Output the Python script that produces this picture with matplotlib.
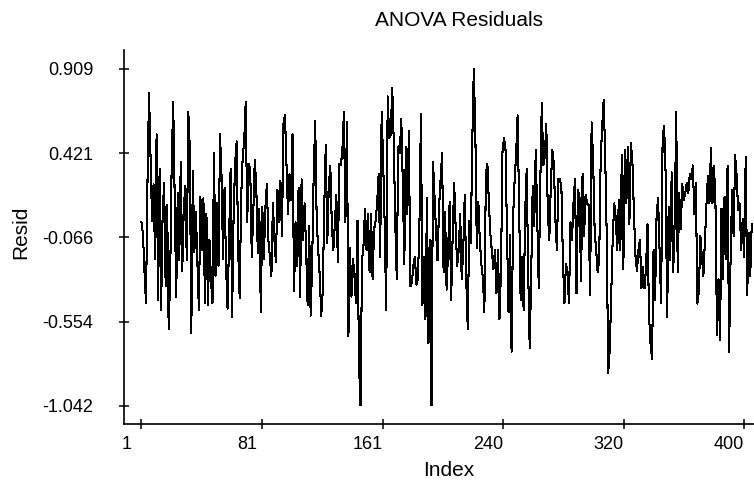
#ANOVA residuals plot, index vs residual

#import modules
import numpy as np
import matplotlib
matplotlib.use("Agg")
import matplotlib.pyplot as plt
from matplotlib.transforms import ScaledTranslation

#Residual values, in chunks of index ranges
resid_001_053 = [0.02, -0.05, -0.27, -0.45, 0.27, 0.77, 0.39, 0.03, 0.24, -0.19, 0.53, -0.43, 0.33,
                 -0.49, 0.07, 0.25, -0.35, 0.12, -0.60, -0.29, 0.36, 0.72, 0.15, -0.41, 0.19, -0.20,
                 0.37, -0.26, 0.10, 0.23, -0.20, 0.66, 0.45, -0.62, 0.32, -0.15, 0.08, -0.20, -0.49,
                 0.17, -0.14, 0.16, -0.45, 0.07, -0.46, -0.08, -0.31, -0.45, 0.42, -0.29, 0.13, -0.23, 0.53]
resid_054_109 = [0.29, -0.19, 0.22, -0.24, -0.48, -0.08, 0.33, -0.53, 0.07, 0.36, 0.49, -0.14, -0.42,
                 0.17, 0.40, 0.49, 0.72, 0.02, 0.36, 0.33, -0.18, 0.07, 0.38, 0.23, -0.16, 0.10, -0.50,
                 0.11, -0.19, 0.10, 0.24, -0.08, -0.18, -0.29, 0.13, -0.08, -0.21, 0.21, 0.02, 0.26,
                 -0.06, 0.59, 0.64, 0.36, 0.07, 0.30, 0.15, 0.53, -0.38, 0.02, -0.23, 0.22, -0.41,
                 0.27, -0.08, 0.13]
resid_110_165 = [-0.14, -0.46, 0.00, -0.52, -0.21, 0.30, 0.61, 0.03, -0.14, -0.29, -0.52, -0.38, 0.11,
                 0.47, -0.10, 0.23, 0.35, 0.01, -0.14, 0.01, 0.18, -0.21, 0.36, 0.35, 0.44, 0.66, 0.02,
                 0.60, -0.64, -0.13, -0.41, -0.19, -0.29, -0.45, 0.03, -0.80, -1.04, -0.20, -0.11, 0.10,
                 -0.14, 0.07, -0.27, 0.07, -0.31, -0.02, 0.03, 0.13, 0.30, -0.18, 0.66, 0.37, 0.01,
                 -0.49, 0.75, 0.51]
resid_166_221 = [0.53, 0.80, 0.49, 0.02, -0.31, 0.46, 0.42, 0.62, 0.25, -0.22, 0.46, 0.07, 0.55, -0.35,
                 -0.33, -0.23, -0.18, -0.34, -0.31, 0.00, 0.65, -0.46, -0.18, -0.54, 0.16, -0.68, -0.08,
                 -1.04, 0.37, 0.17, -0.03, -0.20, 0.11, 0.26, 0.42, -0.27, 0.08, -0.37, -0.14, 0.14,
                 -0.43, -0.06, 0.25, -0.01, -0.23, -0.14, 0.07, -0.31, -0.14, 0.18, -0.31, -0.60, 0.03,
                 -0.10, 0.49, 0.91]
resid_222_277 = [0.55, -0.13, 0.14, -0.09, -0.22, -0.30, -0.50, 0.30, 0.36, 0.13, -0.05, -0.15, -0.25,
                 -0.14, -0.39, -0.14, -0.54, -0.26, 0.43, 0.51, 0.44, -0.05, -0.50, -0.05, -0.73, 0.05,
                 0.26, 0.41, 0.64, 0.12, -0.43, -0.18, -0.49, 0.08, 0.33, -0.26, -0.71, -0.28, 0.23,
                 0.00, 0.44, 0.04, -0.36, 0.24, 0.71, 0.35, 0.40, 0.59, 0.07, -0.08, 0.24, 0.44, 0.36,
                 0.04, -0.14, 0.27]
resid_278_333 = [0.27, 0.22, -0.20, -0.45, -0.22, -0.26, -0.45, 0.02, -0.08, 0.13, 0.27, -0.39, 0.21,
                 0.16, -0.32, 0.30, -0.06, 0.18, 0.13, 0.12, -0.40, 0.60, 0.38, -0.03, -0.14, -0.27,
                 -0.20, 0.39, 0.58, 0.73, 0.40, -0.06, -0.85, -0.72, -0.40, -0.06, 0.13, 0.04, -0.14,
                 0.15, -0.14, 0.41, -0.25, 0.44, 0.13, 0.46, 0.01, 0.48, 0.37, 0.08, -0.17, -0.26,
                 -0.14, -0.08, -0.36, -0.24]
resid_334_405 = [-0.36, -0.25, 0.01, -0.52, -0.68, -0.77, -0.14, -0.43, 0.06, 0.16, -0.14, -0.45, 0.51,
                 0.58, 0.30, -0.53, 0.11, -0.20, 0.31, -0.27, 0.02, 0.66, -0.27, 0.19, -0.02, 0.24,
                 0.15, 0.19, 0.25, 0.19, 0.30, 0.27, 0.35, 0.07, 0.25, -0.45, -0.38, -0.06, -0.18,
                 -0.29, -0.09, 0.12, 0.29, 0.13, 0.45, 0.13, 0.35, 0.12, -0.63, -0.31, -0.66, 0.10,
                 -0.31, 0.17, -0.19, 0.35, -0.73, -0.19, 0.21, -0.06, 0.41, 0.29, 0.09, 0.13, -0.14,
                 0.04, -0.18, 0.40, -0.40, -0.04, -0.29, 0.01]

#Axis ticks as printed on the chart
x_ticks = [1, 80.8, 160.6, 240.4, 320.2, 400]
x_tick_labels = ["1", "81", "161", "240", "320", "400"]
y_ticks = [0.909, 0.42125, -0.0665, -0.55425, -1.042]
y_tick_labels = ["0.909", "0.421", "-0.066", "-0.554", "-1.042"]

resid = np.array(resid_001_053 + resid_054_109 + resid_110_165 + resid_166_221
                 + resid_222_277 + resid_278_333 + resid_334_405)
index = np.arange(1, len(resid) + 1)

plt.rcParams['font.family'] = ['Liberation Sans', 'DejaVu Sans']

fig = plt.figure(figsize=(7.54, 4.86), dpi=100)
ax = fig.add_axes([123.5 / 754, 1 - 424 / 486, 1 - 123.5 / 754, (424 - 50) / 486])

#Crisp 1px black line like the old screen plot
ax.plot(index, resid, color="black", linewidth=0.75, antialiased=False)

ax.set_xlim(-10.9, 406.5)
ax.set_ylim(-1.148, 1.019)

#Only left and bottom axes like the original
ax.spines['top'].set_visible(False)
ax.spines['right'].set_visible(False)
ax.spines['left'].set_linewidth(1.2)
ax.spines['bottom'].set_linewidth(1.2)

ax.set_xticks(x_ticks)
ax.set_xticklabels(x_tick_labels)
ax.set_yticks(y_ticks)
ax.set_yticklabels(y_tick_labels)
ax.tick_params(axis='both', direction='inout', length=7.5, width=1.1, labelsize=13, colors='black')
ax.tick_params(axis='x', pad=5)
ax.tick_params(axis='y', pad=18)

#x tick labels sit a bit left of their tick marks in the original
shift = ScaledTranslation(-0.15, 0, fig.dpi_scale_trans)
for lbl in ax.get_xticklabels():
    lbl.set_transform(lbl.get_transform() + shift)

fig.text(459 / 754, 1 - 21 / 486, "ANOVA Residuals", ha="center", va="center", fontsize=15)
fig.text(449 / 754, 1 - 470 / 486, "Index", ha="center", va="center", fontsize=15)
fig.text(21 / 754, 1 - 232 / 486, "Resid", ha="center", va="center", rotation=90, fontsize=15)

fig.savefig("out.png", dpi=100)
